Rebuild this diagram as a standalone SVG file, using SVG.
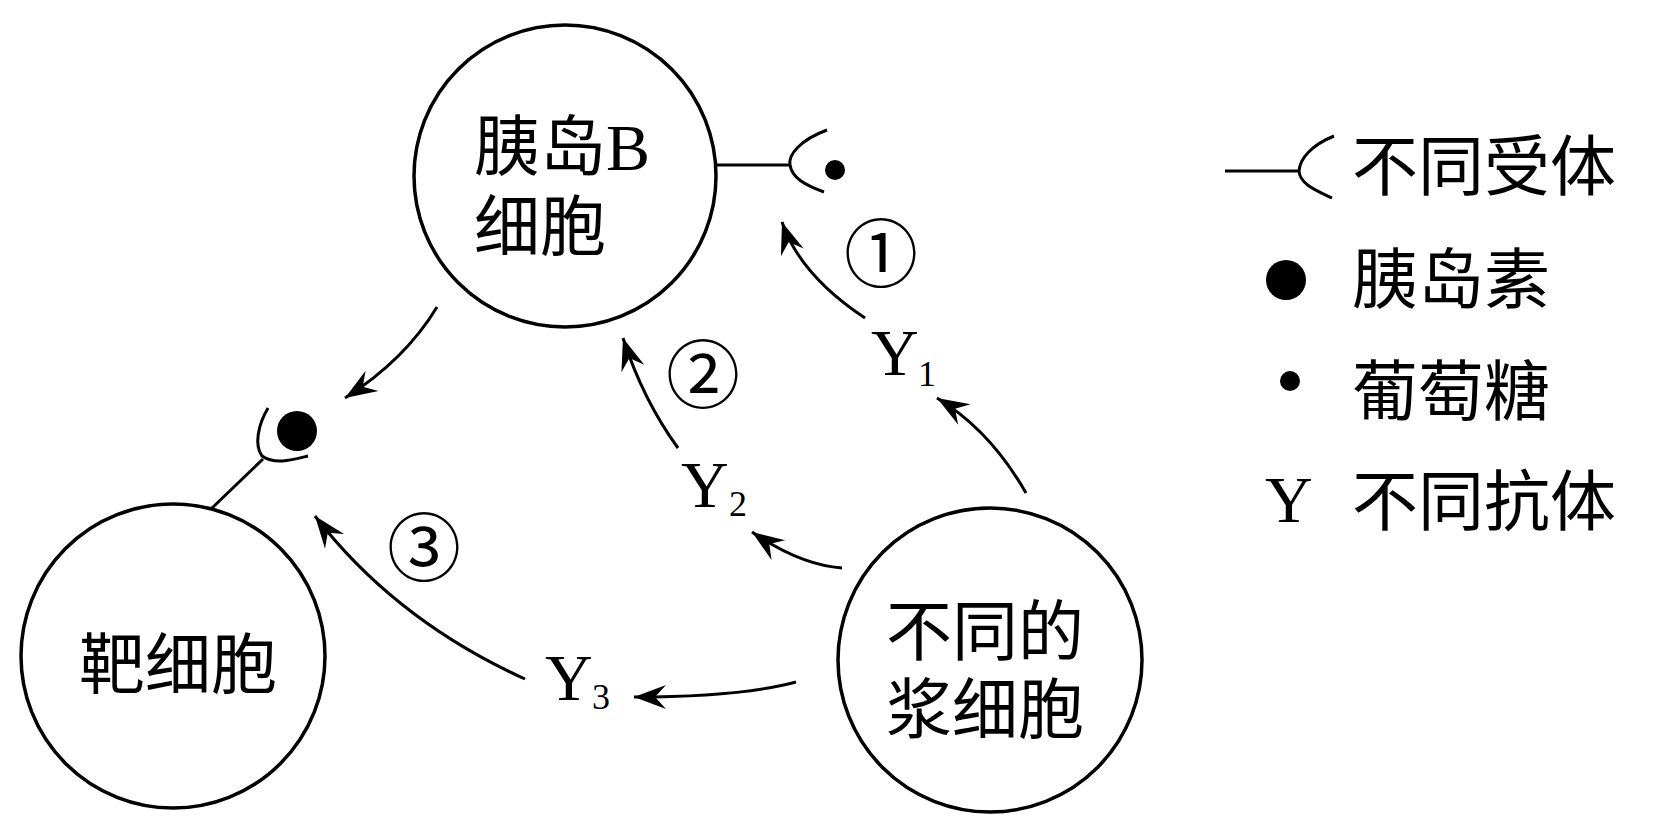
<svg xmlns="http://www.w3.org/2000/svg" width="1653" height="825" viewBox="0 0 1653 825">
<style>
.cell{fill:#fff;stroke:#000;stroke-width:3.5}
.ln{fill:none;stroke:#000;stroke-width:3}
.arr{fill:none;stroke:#000;stroke-width:3;marker-end:url(#ah)}
.cjk{font-family:"Noto Sans CJK SC",sans-serif;font-size:66px;fill:#000}
.lat{font-family:"Liberation Serif",serif;font-size:66px;fill:#000}
.sub{font-family:"Liberation Serif",serif;font-size:36px;fill:#000}
.num{font-family:"Noto Sans CJK SC",sans-serif;font-size:74px;fill:#000;text-anchor:middle}
</style>
<defs>
<marker id="ah" markerUnits="userSpaceOnUse" markerWidth="40" markerHeight="30" refX="0" refY="0" viewBox="-34 -15 40 30" orient="auto">
<path d="M0,0 L-32,-12 L-21,0 L-32,12 Z" fill="#000"/>
</marker>
</defs>
<rect width="1653" height="825" fill="#fff"/>
<g id="b-cell">
<circle class="cell" cx="565" cy="176" r="151"/>
<text class="cjk"><tspan x="474" y="170">胰岛<tspan font-family="Liberation Serif">B</tspan></tspan><tspan x="474" y="250">细胞</tspan></text>
<path class="ln" d="M716,165 L790,165"/>
<path class="ln" d="M827,130 C800,140 788,155 790,165 C792,178 805,185 824,192"/>
<circle cx="835" cy="170" r="10" fill="#000"/>
</g>
<g id="target-cell">
<circle class="cell" cx="173" cy="656" r="152"/>
<text class="cjk" x="79" y="688">靶细胞</text>
<path class="ln" d="M212,508 L263,459"/>
<path class="ln" d="M268,408 C258,425 254,445 262,456 C275,465 292,460 308,456"/>
<circle cx="297" cy="431" r="20" fill="#000"/>
</g>
<g id="plasma-cell">
<circle class="cell" cx="990" cy="660" r="152"/>
<text class="cjk"><tspan x="886" y="655">不同的</tspan><tspan x="886" y="733">浆细胞</tspan></text>
</g>
<g id="labels">
<text class="num" x="881" y="281">①</text>
<text class="num" x="703" y="402">②</text>
<text class="num" x="424" y="575">③</text>
<text class="lat" x="871" y="375">Y</text><text class="sub" x="918" y="386">1</text>
<text class="lat" x="681" y="507">Y</text><text class="sub" x="729" y="516">2</text>
<text class="lat" x="545" y="700">Y</text><text class="sub" x="592" y="709">3</text>
</g>
<g id="connectors">
<path class="arr" d="M437,307 Q405,360 345,398"/>
<path class="arr" d="M865,318 Q800,275 782,222"/>
<path class="arr" d="M1026,493 Q990,430 937,398"/>
<path class="arr" d="M678,448 Q643,400 623,338"/>
<path class="arr" d="M842,568 Q800,565 752,532"/>
<path class="arr" d="M796,682 Q740,697 634,697"/>
<path class="arr" d="M525,679 Q395,620 315,516"/>
</g>
<g id="legend">
<path class="ln" d="M1225,171 L1299,171"/>
<path class="ln" d="M1334,136 C1312,145 1300,158 1299,171 C1300,184 1315,190 1332,198"/>
<text class="cjk" x="1352" y="190">不同受体</text>
<circle cx="1286" cy="280" r="20" fill="#000"/>
<text class="cjk" x="1352" y="303">胰岛素</text>
<circle cx="1290" cy="381" r="10" fill="#000"/>
<text class="cjk" x="1352" y="415">葡萄糖</text>
<text class="lat" x="1265" y="522">Y</text>
<text class="cjk" x="1352" y="525">不同抗体</text>
</g>
</svg>
